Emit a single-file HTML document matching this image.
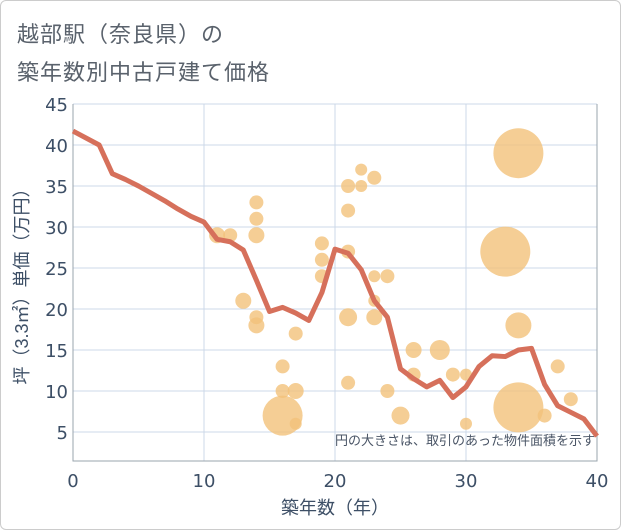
<!DOCTYPE html>
<html><head><meta charset="utf-8"><style>
body{margin:0;background:#fff;}
#wrap{position:relative;width:619px;height:528px;border:1px solid #ccc;border-radius:6px;background:#fff;overflow:hidden;font-family:"Liberation Sans","Noto Sans CJK JP",sans-serif;}
.title{position:absolute;left:16px;font-size:22px;color:#5a626c;letter-spacing:1px;}
</style></head><body>
<div id="wrap">
<div class="title" style="top:16px">越部駅（奈良県）の</div>
<div class="title" style="top:54px">築年数別中古戸建て価格</div>
<svg id="chart" width="621" height="530" style="position:absolute;left:-1px;top:-1px"></svg>
</div>
<script>
const lineX=[0,2,3,4,5,6,7,8,9,10,11,12,13,14,15,16,17,18,19,20,21,22,23,24,25,26,27,28,29,30,31,32,33,34,35,36,37,38,39,40];
const lineY=[41.7,40,36.5,35.8,35,34.1,33.2,32.2,31.3,30.6,28.5,28.2,27.2,23.5,19.7,20.2,19.5,18.6,22,27.3,26.8,24.8,21,19,12.7,11.5,10.5,11.3,9.2,10.5,13,14.3,14.2,15,15.2,10.8,8.2,7.4,6.6,4.5];
const bubX=[11,12,13,14,14,14,14,14,16,16,16,17,17,17,19,19,19,21,21,21,21,21,22,22,23,23,23,23,24,24,25,26,26,28,29,30,30,34,33,34,34,36,37,38];
const bubY=[29,29,21,33,31,29,19,18,13,10,7,17,10,6,28,26,24,35,32,27,19,11,37,35,36,24,21,19,24,10,7,15,12,15,12,12,6,39,27,18,8,7,13,9];
const bubR=[8,7,8,7,7,8,7,8,7,7,20,7,8,6,7,7,7,7,7,7,9,7,6,6,7,6,6,8,7,7,9,8,7,10,7,6,6,25,25,13,25,7,7,7];
const xTicks=[0,10,20,30,40];
const yTicks=[5,10,15,20,25,30,35,40,45];
const L=73,R=597,T=104,B=461;
const xs=v=>L+(v-0)/40*(R-L);
const ys=v=>473-v*8.2;
const svg=document.getElementById('chart');const NS='http://www.w3.org/2000/svg';
function mk(t,a,p){const e=document.createElementNS(NS,t);for(const k in a)e.setAttribute(k,a[k]);(p||svg).appendChild(e);return e;}
const F='"Liberation Sans","Noto Sans CJK JP",sans-serif';
const FD='"DejaVu Sans","Liberation Sans",sans-serif';
xTicks.forEach(v=>{const g=mk('line',{x1:xs(v),x2:xs(v),y1:T,y2:B,stroke:'#ccd9e8','stroke-width':1});

const t=mk('text',{x:xs(v),y:487,'text-anchor':'middle','font-size':18,fill:'#3d4f66','font-family':FD});t.textContent=v;
});
yTicks.forEach(v=>{const g=mk('line',{x1:L,x2:R,y1:ys(v),y2:ys(v),stroke:'#ccd9e8','stroke-width':1});

const t=mk('text',{x:68,y:ys(v)+7,'text-anchor':'end','font-size':18,fill:'#3d4f66','font-family':FD});t.textContent=v;
});
const ax=mk('path',{d:`M${L} ${T}V${B}H${R}V${T}`,fill:'none',stroke:'#9aa4ae','stroke-width':1});

bubX.forEach((x,i)=>{const c=mk('circle',{cx:xs(x),cy:ys(bubY[i]),r:bubR[i],fill:'#f3c27a','fill-opacity':0.8});
});
const pl=mk('polyline',{points:lineX.map((x,i)=>xs(x)+','+ys(lineY[i])).join(' '),fill:'none',stroke:'#d6705b','stroke-width':5,'stroke-linejoin':'round'});

const note=mk('text',{x:595,y:445,'text-anchor':'end','font-size':13,fill:'#4a5566','font-family':F});note.textContent='円の大きさは、取引のあった物件面積を示す';

const xt=mk('text',{x:335,y:514,'text-anchor':'middle','font-size':18,fill:'#3d4f66','font-family':F});xt.textContent='築年数（年）';

const yt=mk('text',{x:0,y:0,'text-anchor':'middle','font-size':18,fill:'#3d4f66','font-family':F,transform:'translate(28,282) rotate(-90)'});yt.textContent='坪（3.3㎡）単価（万円）';

</script>
</body></html>
